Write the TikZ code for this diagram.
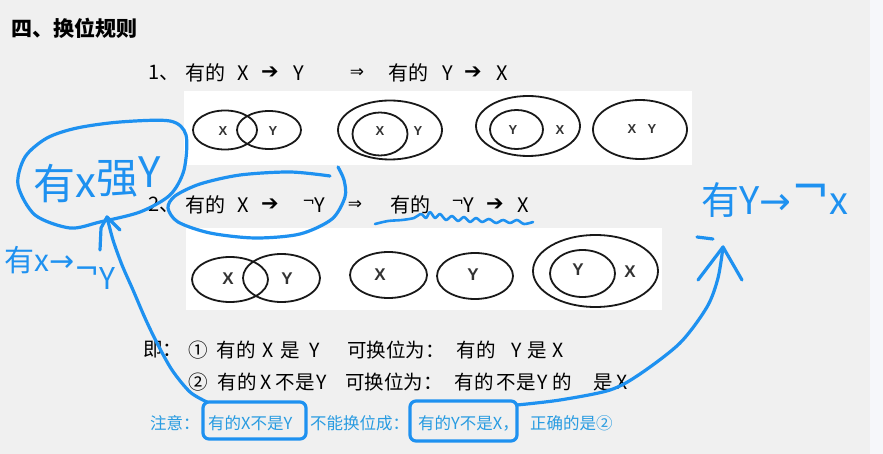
\documentclass[tikz,border=0pt]{standalone}
\usepackage{fontspec}
\setmainfont{Noto Sans CJK SC}
\newfontfamily\sym{DejaVu Sans}
\newfontfamily\lab{Liberation Sans}
\definecolor{bg}{RGB}{240,240,240}
\definecolor{strip}{RGB}{246,247,250}
\definecolor{pen}{RGB}{30,145,240}
\definecolor{note}{RGB}{40,155,225}
\tikzset{
  pen/.style={draw=pen, line width=3.2pt, line cap=round, line join=round},
  ring/.style={draw=black!90, line width=1.8pt},
  txt/.style={inner sep=0pt, font=\fontsize{20}{20}\selectfont},
  jtxt/.style={inner sep=0pt, font=\fontsize{19.5}{19.5}\selectfont},
  arr/.style={inner sep=0pt, font=\sym\fontsize{21}{21}\selectfont},
  darr/.style={inner sep=0pt, font=\sym\fontsize{17}{17}\selectfont},
  labA/.style={inner sep=0pt, text=black!80, font=\lab\bfseries\fontsize{13}{13}\selectfont},
  labB/.style={inner sep=0pt, text=black!80, font=\lab\bfseries\fontsize{17}{17}\selectfont},
  notetxt/.style={inner sep=0pt, anchor=west, text=note, font=\fontsize{16.5}{16.5}\selectfont},
  hand/.style={inner sep=0pt, text=pen}
}
\newcommand{\negs}{\raisebox{0.5ex}{\sym\fontsize{15}{15}\selectfont ¬}}
\begin{document}
\begin{tikzpicture}[x=1pt,y=-1pt]
\useasboundingbox (0,0) rectangle (883,454);
\fill[bg] (0,0) rectangle (883,454);
\fill[strip] (870,0) rectangle (883,454);
% title
\node[anchor=west, inner sep=0pt, font=\fontsize{21}{21}\selectfont\bfseries] (title) at (11,28) {四、换位规则};
% line 1
\node[txt, anchor=west] (l1a) at (148,73) {1、};
\node[txt] (l1b) at (205,73) {有的};
\node[txt] (l1c) at (243,73) {X};
\node[arr] (l1d) at (270,73) {➔};
\node[txt] (l1e) at (299,73) {Y};
\node[darr] (l1f) at (357,73) {⇒};
\node[txt] (l1g) at (408,73) {有的};
\node[txt] (l1h) at (448,73) {Y};
\node[arr] (l1i) at (473,73) {➔};
\node[txt] (l1j) at (502,73) {X};
% panel 1
\fill[white] (184,91) rectangle (692,165);
\draw[ring] (225,130) ellipse [x radius=32, y radius=19.5];
\draw[ring] (269,130) ellipse [x radius=32, y radius=19];
\node[labA] (p1x1) at (223,131) {X};
\node[labA] (p1y1) at (273,131) {Y};
\draw[ring] (390,130) ellipse [x radius=52, y radius=29.5];
\draw[ring] (380,134) ellipse [x radius=27.5, y radius=21.5];
\node[labA] (p1x2) at (380,131) {X};
\node[labA] (p1y2) at (418,131) {Y};
\draw[ring] (528,126) ellipse [x radius=52, y radius=30];
\draw[ring] (516.5,129.5) ellipse [x radius=26.5, y radius=19.5];
\node[labA] (p1y3) at (513,130) {Y};
\node[labA] (p1x3) at (560,130) {X};
\draw[ring] (640,129.5) ellipse [x radius=47, y radius=29.5];
\node[labA] (p1x4) at (632,129) {X};
\node[labA] (p1y4) at (652,129) {Y};
% line 2
\node[txt, anchor=west] (l2a) at (148,205) {2、};
\node[txt] (l2b) at (205,205) {有的};
\node[txt] (l2c) at (243,205) {X};
\node[arr] (l2d) at (270,205) {➔};
\node[txt] (l2e) at (314,205) {\negs Y};
\node[darr] (l2f) at (355,205) {⇒};
\node[txt] (l2g) at (410,205) {有的};
\node[txt] (l2h) at (463,205) {\negs Y};
\node[arr] (l2i) at (495,205) {➔};
\node[txt] (l2j) at (523,205) {X};
% panel 2
\fill[white] (186,228) rectangle (662,310);
\draw[ring] (230,279.5) ellipse [x radius=38, y radius=22.5];
\draw[ring] (281.5,278) ellipse [x radius=38.5, y radius=24];
\node[labB] (p2x1) at (228,279) {X};
\node[labB] (p2y1) at (287,279) {Y};
\draw[ring] (388.5,275) ellipse [x radius=38.5, y radius=23];
\draw[ring] (475,276) ellipse [x radius=38, y radius=23];
\node[labB] (p2x2) at (380,275) {X};
\node[labB] (p2y2) at (473,275) {Y};
\draw[ring] (595.5,271) ellipse [x radius=62.5, y radius=36];
\draw[ring] (582.5,273.5) ellipse [x radius=32.5, y radius=23.5];
\node[labB] (p2y3) at (578,270) {Y};
\node[labB] (p2x3) at (630,272) {X};
% summary lines
\node[jtxt, anchor=west] (s1a) at (143,350) {即：};
\node[jtxt] (s1b) at (198,350) {①};
\node[jtxt] (s1c) at (236,350) {有的};
\node[jtxt] (s1d) at (268,350) {X};
\node[jtxt] (s1e) at (290,350) {是};
\node[jtxt] (s1f) at (315,350) {Y};
\node[jtxt, anchor=west] (s1g) at (347,350) {可换位为：};
\node[jtxt] (s1h) at (476,350) {有的};
\node[jtxt] (s1i) at (517,350) {Y};
\node[jtxt] (s1j) at (537,350) {是};
\node[jtxt] (s1k) at (558,350) {X};
\node[jtxt] (s2b) at (198,382) {②};
\node[jtxt] (s2c) at (237,382) {有的};
\node[jtxt] (s2d) at (266,382) {X};
\node[jtxt] (s2e) at (295,382) {不是};
\node[jtxt] (s2f) at (322,382) {Y};
\node[jtxt, anchor=west] (s2g) at (345,382) {可换位为：};
\node[jtxt] (s2h) at (474,382) {有的};
\node[jtxt] (s2i) at (516,382) {不是};
\node[jtxt] (s2j) at (543,382) {Y};
\node[jtxt] (s2k) at (562,382) {的};
\node[jtxt] (s2l) at (603,382) {是};
\node[jtxt] (s2m) at (622,382) {X};
% note line
\node[notetxt] (na) at (150,423) {注意：};
\node[notetxt] (nb) at (208,423) {有的X不是Y};
\node[notetxt] (nc) at (310,423) {不能换位成：};
\node[notetxt] (nd) at (418,423) {有的Y不是X，};
\node[notetxt] (ne) at (530,423) {正确的是②};
% handwritten annotations
\node[hand, anchor=west, font=\fontsize{42}{42}\selectfont] (h1) at (33,180) {有\raisebox{2pt}{x}\raisebox{6pt}{强}\raisebox{12pt}{Y}};
\node[hand, anchor=west, font=\fontsize{30}{30}\selectfont] (h2) at (4,268) {有x{\sym →}\raisebox{-0.5ex}{\sym ¬}\raisebox{-1.1ex}{Y}};
\node[hand, font=\fontsize{38}{38}\selectfont] (h3) at (775,200) {有Y{\sym →}\raisebox{0.55ex}{\sym\fontsize{46}{46}\selectfont ¬}x};
% circle around h1
\draw[pen] plot[smooth cycle] coordinates {(120,122) (170,121) (186,135) (184,170) (170,195) (140,212) (100,222) (70,228) (35,215) (18,185) (25,157) (47,138) (77,128)};
% loop around line 2 left part
\draw[pen] plot[smooth] coordinates {(330,176) (290,172) (240,175) (200,184) (175,196) (168,208) (178,222) (210,233) (255,238) (300,234) (332,219) (345,197) (344,180) (338,167)};
% wavy underline
\draw[pen, line width=2.6pt] plot[smooth] coordinates {(375,224) (388,221) (402,220) (414,218) (421,214) (426,218) (430,212) (435,218) (440,214) (446,220) (452,216) (458,221) (464,217) (470,222) (476,218) (482,222) (489,219) (496,223) (503,220) (510,223) (517,220) (524,224) (533,222)};
% boxes in note line
\draw[pen, rounded corners=6] (203,402) rectangle (306,439);
\draw[pen, rounded corners=6] (410,401) rectangle (517,441);
\coordinate (tipL) at (107,217);
\coordinate (tipR) at (723,247);
\coordinate (boxL) at (207,402);
\coordinate (boxR) at (517,405);
% left arrow curve
\draw[pen] plot[smooth] coordinates {(tipL) (113,240) (122,265) (133,290) (145,318) (157,343) (172,370) (190,392) (boxL)};
\draw[pen] (100,250) -- (101,228) -- (tipL) -- (120,230);
% right arrow curve
\draw[pen] plot[smooth] coordinates {(boxR) (560,400) (610,390) (640,374) (680,343) (707,307) (718,278) (tipR)};
\draw[pen] (698,280) -- (tipR) -- (742,280);
\draw[pen] (697,237) -- (713,239);
\end{tikzpicture}
\end{document}
